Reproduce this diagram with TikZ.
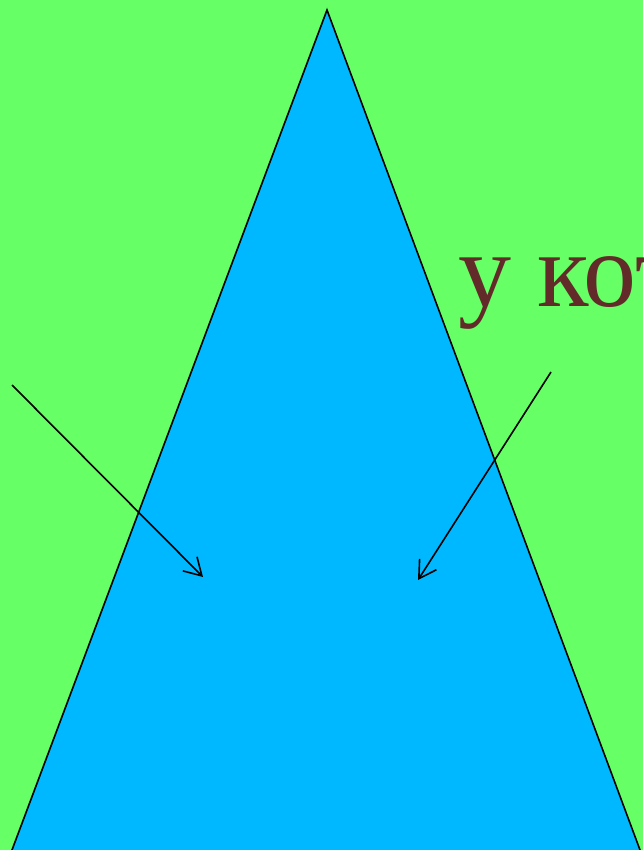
\documentclass[tikz,border=0pt]{standalone}
\usepackage{fontspec}
\setmainfont{Liberation Serif}
\usetikzlibrary{arrows.meta}
\definecolor{bggreen}{HTML}{66FF66}
\definecolor{triblue}{HTML}{00B8FF}
\definecolor{txtbrown}{HTML}{632A2A}
\begin{document}
\begin{tikzpicture}[x=1pt,y=-1pt,
  pointer/.style={draw=black,line width=1.6pt,-{Straight Barb[length=17pt,width=20pt,line width=1.6pt]}},
  edge/.style={draw=black,line width=1.6pt}]
\useasboundingbox (0,0) rectangle (643,850);
\clip (0,0) rectangle (643,850);
\fill[bggreen] (0,0) rectangle (643,850);
\coordinate (apex) at (327,10);
\coordinate (bl) at (9,858);
\coordinate (br) at (643,858);
\fill[triblue] (apex) -- (bl) -- (br) -- cycle;
\draw[edge,line join=miter] (bl) -- (apex) -- (br);
\node[anchor=base west,inner sep=0pt,text=txtbrown,font=\fontsize{106}{110}\selectfont] (txt) at (458,306) {у кот};
\coordinate (a1s) at (12,385);
\coordinate (a1e) at (203,577);
\coordinate (a2s) at (551,372);
\coordinate (a2e) at (418,580);
\draw[pointer] (a1s) -- (a1e);
\draw[pointer] (a2s) -- (a2e);
\end{tikzpicture}
\end{document}
